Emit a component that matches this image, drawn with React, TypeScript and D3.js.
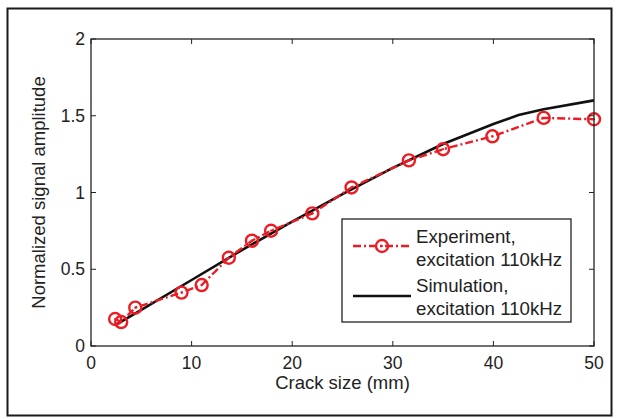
import React from "react";
import * as d3 from "d3";

const crackExp = [2.4, 3.0, 4.4, 9.0, 11.0, 13.7, 16.0, 17.9, 22.0, 25.9, 31.6, 35.0, 39.9, 45.0, 50.0];
const ampExp = [0.176, 0.156, 0.25, 0.348, 0.397, 0.575, 0.686, 0.751, 0.864, 1.033, 1.209, 1.282, 1.366, 1.486, 1.477];
const crackSim = [2.5, 5, 10, 15, 20, 25, 30, 35, 40, 42.5, 45, 50];
const ampSim = [0.14, 0.235, 0.43, 0.625, 0.81, 0.99, 1.16, 1.316, 1.446, 1.505, 1.542, 1.6];
const xTicks = [0, 10, 20, 30, 40, 50];
const yTicks = [0, 0.5, 1, 1.5, 2];
const yTickLabels = ["0", "0.5", "1", "1.5", "2"];
const legendLabels = [["Experiment,", "excitation 110kHz"], ["Simulation,", "excitation 110kHz"]];

const W = 619, H = 419;
const L = 91, R = 594, T = 39, B = 346;
const RED = "#ec1c24";
const FONT = "'Liberation Sans', Arial, Helvetica, sans-serif";

export default function App() {
  const x = d3.scaleLinear().domain([0, 50]).range([L, R]);
  const y = d3.scaleLinear().domain([0, 2]).range([B, T]);
  const expPts: [number, number][] = crackExp.map((c, i) => [c, ampExp[i]]);
  const simPts: [number, number][] = crackSim.map((c, i) => [c, ampSim[i]]);
  const line = d3.line<[number, number]>().x(d => x(d[0])).y(d => y(d[1]));
  const tk = 5;
  return (
    <svg width={W} height={H} style={{ position: "absolute", left: 0, top: 0, background: "#fff" }} fontFamily={FONT}>
      <rect x={0} y={0} width={W} height={H} fill="#fff" />
      <rect x={7.5} y={8.5} width={604} height={407} fill="none" stroke="#1a1a1a" strokeWidth={2} />
      {/* data */}
      <path d={line(simPts) || ""} fill="none" stroke="#111" strokeWidth={2.6} />
      <path d={line(expPts) || ""} fill="none" stroke={RED} strokeWidth={2.4} strokeDasharray="8,3,2,3" />
      {expPts.map((p, i) => (
        <g key={i}>
          <circle cx={x(p[0])} cy={y(p[1])} r={6} fill="none" stroke={RED} strokeWidth={2.4} />
          <circle cx={x(p[0])} cy={y(p[1])} r={1.1} fill={RED} />
        </g>
      ))}
      {/* axes box */}
      <rect x={L} y={T} width={R - L} height={B - T} fill="none" stroke="#222" strokeWidth={1.3} />
      {xTicks.map((t, i) => (
        <g key={"x" + i}>
          <line x1={x(t)} x2={x(t)} y1={B} y2={B - tk} stroke="#222" strokeWidth={1} />
          <line x1={x(t)} x2={x(t)} y1={T} y2={T + tk} stroke="#222" strokeWidth={1} />
          <text x={x(t)} y={369} textAnchor="middle" fontSize={17.5} fill="#222">{t}</text>
        </g>
      ))}
      {yTicks.map((t, i) => (
        <g key={"y" + i}>
          <line x1={L} x2={L + tk} y1={y(t)} y2={y(t)} stroke="#222" strokeWidth={1} />
          <line x1={R} x2={R - tk} y1={y(t)} y2={y(t)} stroke="#222" strokeWidth={1} />
          <text x={85} y={y(t) + 6} textAnchor="end" fontSize={17.5} fill="#222">{yTickLabels[i]}</text>
        </g>
      ))}
      <text x={(L + R) / 2} y={389} textAnchor="middle" fontSize={18.5} fill="#222">Crack size (mm)</text>
      <text transform={`translate(45,${(T + B) / 2}) rotate(-90)`} textAnchor="middle" fontSize={18.5} fill="#222">Normalized signal amplitude</text>
      {/* legend */}
      <rect x={342} y={219} width={229} height={103} fill="#fff" stroke="#222" strokeWidth={1.3} />
      <line x1={353} x2={411} y1={246} y2={246} stroke={RED} strokeWidth={2.4} strokeDasharray="8,3,2,3" />
      <circle cx={382} cy={246} r={6} fill="none" stroke={RED} strokeWidth={2.4} />
      <circle cx={382} cy={246} r={1.1} fill={RED} />
      <line x1={353} x2={411} y1={296} y2={296} stroke="#111" strokeWidth={2.6} />
      {legendLabels.map((lbl, i) => (
        <g key={"l" + i}>
          <text x={416} y={243 + i * 49} fontSize={18.7} fill="#222">{lbl[0]}</text>
          <text x={416} y={266 + i * 49} fontSize={18.7} fill="#222">{lbl[1]}</text>
        </g>
      ))}
    </svg>
  );
}
